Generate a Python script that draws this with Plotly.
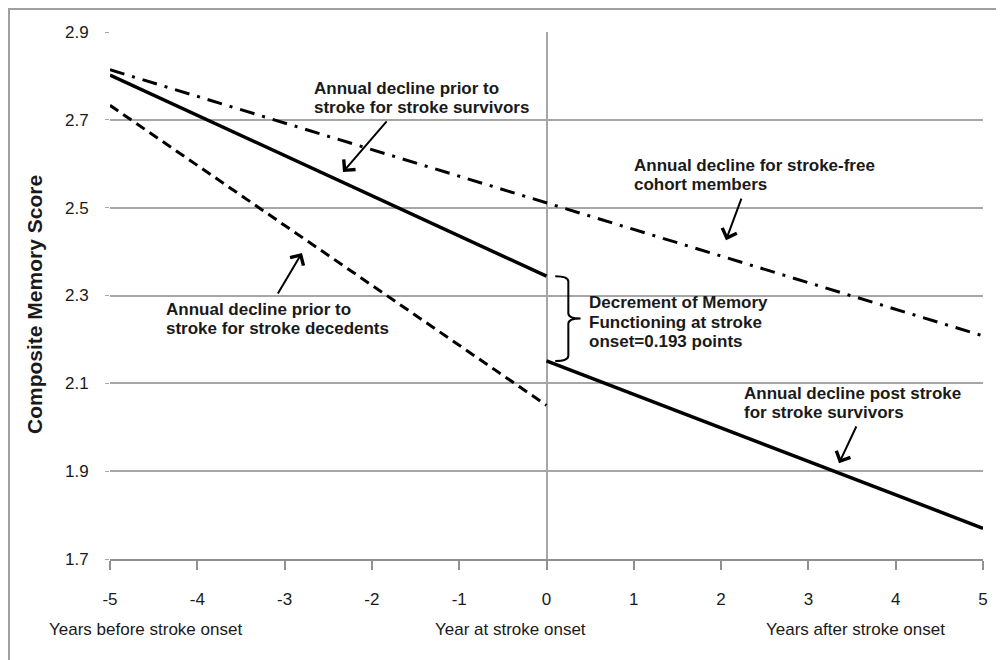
import plotly.graph_objects as go

# ---- data ----
years_pre = [-5, 0]
survivors_pre = [2.802, 2.344]
decedents_pre = [2.733, 2.050]
years_post = [0, 5]
survivors_post = [2.151, 1.770]
years_all = [-5, 5]
stroke_free = [2.814, 2.208]

x_ticks = [-5, -4, -3, -2, -1, 0, 1, 2, 3, 4, 5]
y_ticks = [1.7, 1.9, 2.1, 2.3, 2.5, 2.7, 2.9]

FONT = "Liberation Sans, Arial, sans-serif"
GRID = "#a6a6a6"
TXT = "#1a1a1a"

fig = go.Figure()
fig.add_trace(go.Scatter(x=years_all, y=stroke_free, mode="lines",
                         line=dict(color="black", width=3, dash="15px,8px,3px,8px"),
                         showlegend=False, hoverinfo="skip"))
fig.add_trace(go.Scatter(x=years_pre, y=decedents_pre, mode="lines",
                         line=dict(color="black", width=3, dash="10px,6px"),
                         showlegend=False, hoverinfo="skip"))
fig.add_trace(go.Scatter(x=years_pre, y=survivors_pre, mode="lines",
                         line=dict(color="black", width=3.5),
                         showlegend=False, hoverinfo="skip"))
fig.add_trace(go.Scatter(x=years_post, y=survivors_post, mode="lines",
                         line=dict(color="black", width=3.5),
                         showlegend=False, hoverinfo="skip"))

# bracket between pre-stroke end and post-stroke start
top = survivors_pre[-1]
bot = survivors_post[0]
mid = (top + bot) / 2
xa, xb, xc = 0.10, 0.25, 0.39
r = 0.012
path = (f"M {xa},{top} Q {xb},{top} {xb},{top - r} "
        f"L {xb},{mid + r} Q {xb},{mid} {xc},{mid} "
        f"Q {xb},{mid} {xb},{mid - r} "
        f"L {xb},{bot + r} Q {xb},{bot} {xa},{bot}")

shapes = [
    dict(type="path", xref="x", yref="y", path=path,
         line=dict(color="black", width=2)),
    dict(type="rect", xref="paper", yref="paper",
         x0=-0.1157, x1=1.06, y0=-0.3, y1=1.0436,
         line=dict(color="#a0a0a0", width=2), layer="below"),
]

txt_font = dict(family=FONT, size=17, color=TXT)
PITCH = 19.5 / 439.0  # one text line in data units
annotations = []

def label(lines, x, y_first):
    for i, line in enumerate(lines):
        annotations.append(dict(text=f"<b>{line}</b>", x=x, y=y_first - i * PITCH,
                                xref="x", yref="y", xanchor="left", yanchor="middle",
                                showarrow=False, font=txt_font))

def arrow(tail, tip):
    annotations.append(dict(text="", x=tip[0], y=tip[1], ax=tail[0], ay=tail[1],
                            xref="x", yref="y", axref="x", ayref="y",
                            showarrow=True, arrowhead=4, arrowsize=1.5,
                            arrowwidth=2, arrowcolor="black"))

label(["Annual decline prior to", "stroke for stroke survivors"], -2.686, 2.772)
arrow((-1.816, 2.700), (-2.331, 2.581))
label(["Annual decline for stroke-free", "cohort members"], 0.979, 2.597)
arrow((2.239, 2.524), (2.056, 2.426))
label(["Decrement of Memory", "Functioning at stroke", "onset=0.193 points"], 0.464, 2.283)
label(["Annual decline prior to", "stroke for stroke decedents"], -4.381, 2.269)
arrow((-3.087, 2.301), (-2.801, 2.397))
label(["Annual decline post stroke", "for stroke survivors"], 2.239, 2.078)
arrow((3.557, 2.005), (3.351, 1.918))

cat_font = dict(family=FONT, size=17, color=TXT)
annotations += [
    dict(text="Years before stroke onset", xref="paper", yref="paper",
         x=-0.0722, y=-0.1347, xanchor="left", yanchor="middle",
         showarrow=False, font=cat_font),
    dict(text="Year at stroke onset", xref="paper", yref="paper",
         x=0.4593, y=-0.1347, xanchor="center", yanchor="middle",
         showarrow=False, font=cat_font),
    dict(text="Years after stroke onset", xref="paper", yref="paper",
         x=0.8545, y=-0.1347, xanchor="center", yanchor="middle",
         showarrow=False, font=cat_font),
    dict(text="<b>Composite Memory Score</b>", xref="paper", yref="paper",
         x=-0.0859, y=0.482, xanchor="center", yanchor="middle",
         textangle=-90, showarrow=False,
         font=dict(family=FONT, size=21, color=TXT)),
]

fig.update_layout(
    width=1004, height=660,
    margin=dict(l=102, r=29, t=24, b=109),
    paper_bgcolor="white", plot_bgcolor="white",
    shapes=shapes, annotations=annotations,
    xaxis=dict(range=[-5, 5], tickvals=x_ticks,
               ticktext=[str(v) for v in x_ticks],
               showgrid=False, zeroline=True, zerolinecolor=GRID, zerolinewidth=1.5,
               showline=True, linecolor="#909090", linewidth=1.5,
               ticks="outside", ticklen=9, tickcolor="#909090", tickwidth=1.5,
               ticklabelstandoff=15,
               tickfont=dict(family=FONT, size=17, color=TXT)),
    yaxis=dict(range=[1.7, 2.9], tickvals=y_ticks,
               ticktext=[f"{v:.1f}" for v in y_ticks],
               showgrid=True, gridcolor=GRID, gridwidth=1.5,
               zeroline=False, showline=False,
               ticks="outside", ticklen=4, tickcolor=GRID,
               ticklabelstandoff=13,
               tickfont=dict(family=FONT, size=17, color=TXT)),
)

fig.write_html("out.html")
